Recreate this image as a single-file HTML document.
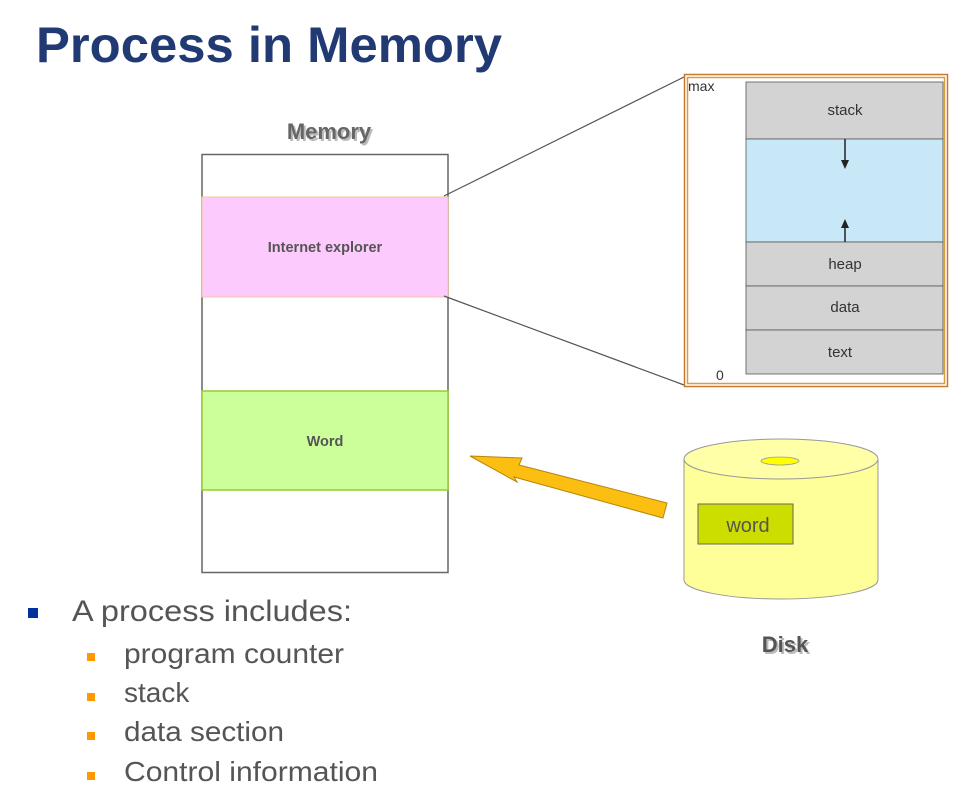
<!DOCTYPE html>
<html><head><meta charset="utf-8"><style>html,body{margin:0;padding:0;background:#fff}svg{display:block}</style></head>
<body>
<svg width="964" height="812" viewBox="0 0 964 812" xmlns="http://www.w3.org/2000/svg" font-family="Liberation Sans, sans-serif">
<rect width="964" height="812" fill="#fff"/>
<text x="36" y="62" font-size="50" font-weight="bold" fill="#213a74" textLength="466" lengthAdjust="spacingAndGlyphs">Process in Memory</text>

<text x="331" y="141" font-size="22" font-weight="bold" fill="#bbb" text-anchor="middle">Memory</text>
<text x="329" y="139" font-size="22" font-weight="bold" fill="#666" text-anchor="middle">Memory</text>

<rect x="202" y="154.5" width="246" height="418" fill="#fff" stroke="#666" stroke-width="1.5"/>
<rect x="202" y="197" width="246" height="100" fill="#fdcafd" stroke="#f5c49a" stroke-width="1"/>
<text x="325" y="252" font-size="14.5" font-weight="bold" fill="#555" text-anchor="middle">Internet explorer</text>
<rect x="202" y="391" width="246" height="99" fill="#ccff99" stroke="#99cc33" stroke-width="1.5"/>
<text x="325" y="446" font-size="14.5" font-weight="bold" fill="#555" text-anchor="middle">Word</text>

<line x1="444" y1="196" x2="684" y2="77" stroke="#555" stroke-width="1.2"/>
<line x1="444" y1="296" x2="684" y2="385" stroke="#555" stroke-width="1.2"/>

<rect x="684.5" y="74.5" width="263" height="312" fill="#fff" stroke="#c87a2a" stroke-width="1.5"/>
<rect x="687.5" y="77.5" width="257" height="306" fill="none" stroke="#d99a4a" stroke-width="1.5"/>
<rect x="746" y="82" width="197" height="57" fill="#d3d3d3" stroke="#555" stroke-width="0.8"/>
<rect x="746" y="139" width="197" height="103" fill="#c9e8f7" stroke="#555" stroke-width="0.8"/>
<rect x="746" y="242" width="197" height="44" fill="#d3d3d3" stroke="#555" stroke-width="0.8"/>
<rect x="746" y="286" width="197" height="44" fill="#d3d3d3" stroke="#555" stroke-width="0.8"/>
<rect x="746" y="330" width="197" height="44" fill="#d3d3d3" stroke="#555" stroke-width="0.8"/>
<g font-size="15" fill="#333" text-anchor="middle">
<text x="845" y="115">stack</text><text x="845" y="269">heap</text><text x="845" y="312">data</text><text x="840" y="357">text</text>
</g>
<text x="688" y="91" font-size="14" fill="#333">max</text>
<text x="716" y="380" font-size="14" fill="#333">0</text>
<line x1="845" y1="139" x2="845" y2="162" stroke="#222" stroke-width="1.5"/>
<polygon points="841,160 849,160 845,169" fill="#222"/>
<line x1="845" y1="242" x2="845" y2="225" stroke="#222" stroke-width="1.5"/>
<polygon points="841,228 849,228 845,219" fill="#222"/>

<polygon points="470,456 522,458 519,465 667,503 663,518 514,477 517,482" fill="#fcbf11" stroke="#b8860b" stroke-width="1"/>

<path d="M684,459 L684,580 A97,19 0 0 0 878,580 L878,459" fill="#ffff99" stroke="#999" stroke-width="1"/>
<ellipse cx="781" cy="459" rx="97" ry="20" fill="#ffffa8" stroke="#999" stroke-width="1"/>
<ellipse cx="780" cy="461" rx="19" ry="4" fill="#ffff00" stroke="#999" stroke-width="0.8"/>
<rect x="698" y="504" width="95" height="40" fill="#ccdd00" stroke="#666" stroke-width="1"/>
<text x="748" y="532" font-size="20" fill="#555" text-anchor="middle">word</text>
<text x="787" y="654" font-size="22" font-weight="bold" fill="#bbb" text-anchor="middle">Disk</text>
<text x="785" y="652" font-size="22" font-weight="bold" fill="#555" text-anchor="middle">Disk</text>

<rect x="28" y="608" width="10" height="10" fill="#003399"/>
<text x="72" y="621" font-size="30" fill="#555" textLength="280" lengthAdjust="spacingAndGlyphs">A process includes:</text>
<g fill="#ff9900"><rect x="87" y="653" width="8" height="8"/><rect x="87" y="693" width="8" height="8"/><rect x="87" y="732" width="8" height="8"/><rect x="87" y="772" width="8" height="8"/></g>
<g font-size="28" fill="#555">
<text x="124" y="663" textLength="220" lengthAdjust="spacingAndGlyphs">program counter</text>
<text x="124" y="702">stack</text>
<text x="124" y="741" textLength="160" lengthAdjust="spacingAndGlyphs">data section</text>
<text x="124" y="781" textLength="254" lengthAdjust="spacingAndGlyphs">Control information</text>
</g>
</svg>
</body></html>
